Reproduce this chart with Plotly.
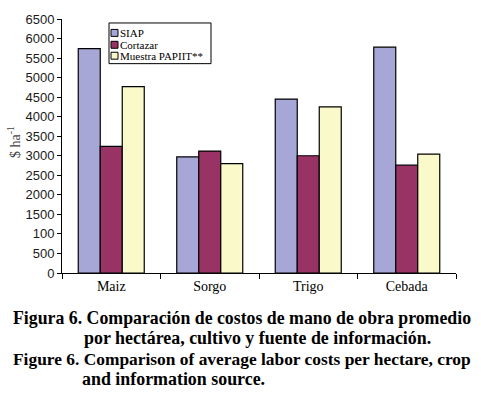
import plotly.graph_objects as go

categories = ["Maiz", "Sorgo", "Trigo", "Cebada"]
siap = [5740, 2970, 4450, 5780]
cortazar = [3240, 3120, 3000, 2760]
muestra = [4770, 2800, 4250, 3040]
series_names = ["SIAP", "Cortazar", "Muestra PAPIIT**"]
colors = ["#A7A7D7", "#993366", "#FAF9C9"]
tick_vals = [0, 500, 1000, 1500, 2000, 2500, 3000, 3500, 4000, 4500, 5000, 5500, 6000, 6500]
tick_text = ["0", "500", "100", "1500", "2000", "2500", "3000", "3500", "4000", "4500", "5000", "5500", "6000", "6500"]
caption_lines = [
    "Figura 6. Comparación de costos de mano de obra promedio",
    "por hectárea, cultivo y fuente de información.",
    "Figure 6. Comparison of average labor costs per hectare, crop",
    "and information source.",
]

L, R, T, B = 62, 456, 17, 273
W, H = 481, 396


def px(x):
    return (x - L) / (R - L)


def py(y):
    return (B - y) / (B - T)


fig = go.Figure()
for name, vals, col in zip(series_names, [siap, cortazar, muestra], colors):
    fig.add_trace(go.Bar(
        x=categories, y=vals, name=name,
        marker=dict(color=col, line=dict(color="black", width=1.2)),
    ))

fig.update_layout(
    width=W, height=H,
    margin=dict(l=L, r=W - R, t=T, b=H - B),
    paper_bgcolor="white", plot_bgcolor="white",
    barmode="group", bargap=0.33, bargroupgap=0,
    font=dict(family="Liberation Serif", color="black"),
    showlegend=False,
    xaxis=dict(
        showline=True, linecolor="black", linewidth=1,
        ticks="outside", tickson="boundaries", ticklen=5, tickcolor="black",
        tickfont=dict(family="Liberation Serif", size=14, color="black"),
        showgrid=False,
    ),
    yaxis=dict(
        range=[0, 6500], showline=True, linecolor="black", linewidth=1,
        ticks="outside", ticklen=4, tickcolor="black",
        tickvals=tick_vals, ticktext=tick_text,
        tickfont=dict(family="Liberation Sans", size=13, color="#1a1a1a"),
        showgrid=False, zeroline=False,
    ),
)

# y-axis title
fig.add_annotation(
    text="$ ha<sup>-1</sup>", xref="paper", yref="paper",
    x=px(14), y=py(141), xanchor="center", yanchor="middle",
    textangle=-90, showarrow=False,
    font=dict(family="Liberation Serif", size=14, color="#444444"),
)

# legend box
fig.add_shape(type="rect", xref="paper", yref="paper",
              x0=px(109), x1=px(211), y0=py(21), y1=py(62),
              line=dict(color="black", width=1), fillcolor="white", layer="above")
row_y = [31, 43, 54]
for name, col, yy in zip(series_names, colors, row_y):
    fig.add_shape(type="rect", xref="paper", yref="paper",
                  x0=px(111), x1=px(118), y0=py(yy + 3.5), y1=py(yy - 3.5),
                  line=dict(color="black", width=1), fillcolor=col, layer="above")
    fig.add_annotation(
        text=name, xref="paper", yref="paper",
        x=px(119), y=py(yy), xanchor="left", yanchor="middle",
        showarrow=False, borderpad=0,
        font=dict(family="Liberation Serif", size=11, color="black"),
    )

ys = [318, 339, 360, 380]
xs = [11, 82, 11, 80]
sizes = [17.8, 17.9, 17.4, 17.9]
for txt, yy, xx, fs in zip(caption_lines, ys, xs, sizes):
    fig.add_annotation(
        text="<b>" + txt + "</b>", xref="paper", yref="paper",
        x=px(xx), y=py(yy),
        xanchor="left", yanchor="middle", showarrow=False,
        font=dict(family="Liberation Serif", size=fs, color="black"),
    )

fig.write_html("out.html", config={"displayModeBar": False},
               post_script="document.body.style.margin='0';")
